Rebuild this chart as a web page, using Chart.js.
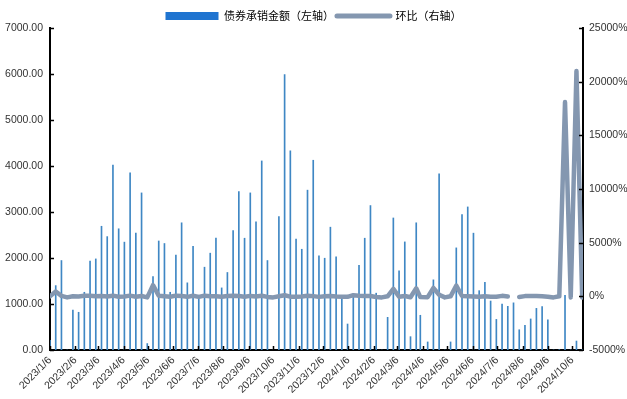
<!DOCTYPE html>
<html>
<head>
<meta charset="utf-8">
<script src="https://cdn.jsdelivr.net/npm/chart.js@4.4.1/dist/chart.umd.min.js"></script>
<style>
  html, body { margin: 0; padding: 0; background: #fff; }
</style>
</head>
<body>
<canvas id="chart" width="627" height="399"></canvas>
<script>
// Weekly observation dates
const weekDates = [
  '2023/1/6','2023/1/13','2023/1/20','2023/1/27','2023/2/3','2023/2/10','2023/2/17','2023/2/24',
  '2023/3/3','2023/3/10','2023/3/17','2023/3/24','2023/3/31','2023/4/7','2023/4/14','2023/4/21','2023/4/28',
  '2023/5/5','2023/5/12','2023/5/19','2023/5/26','2023/6/2','2023/6/9','2023/6/16','2023/6/23','2023/6/30',
  '2023/7/7','2023/7/14','2023/7/21','2023/7/28','2023/8/4','2023/8/11','2023/8/18','2023/8/25',
  '2023/9/1','2023/9/8','2023/9/15','2023/9/22','2023/9/29','2023/10/6','2023/10/13','2023/10/20','2023/10/27',
  '2023/11/3','2023/11/10','2023/11/17','2023/11/24','2023/12/1','2023/12/8','2023/12/15','2023/12/22','2023/12/29',
  '2024/1/5','2024/1/12','2024/1/19','2024/1/26','2024/2/2','2024/2/9','2024/2/16','2024/2/23',
  '2024/3/1','2024/3/8','2024/3/15','2024/3/22','2024/3/29','2024/4/3','2024/4/12','2024/4/19','2024/4/26',
  '2024/5/3','2024/5/10','2024/5/17','2024/5/24','2024/5/31','2024/6/7','2024/6/14','2024/6/21','2024/6/28',
  '2024/7/5','2024/7/12','2024/7/19','2024/7/26','2024/8/2','2024/8/9','2024/8/16','2024/8/23','2024/8/30',
  '2024/9/6','2024/9/13','2024/9/20','2024/9/27','2024/10/4','2024/10/11','2024/10/18'
];

// 债券承销金额（亿元）
const underwriting = [
  210, 1400, 1945, 0, 870, 820, 1255, 1935, 1980, 2690,
  2465, 4020, 2635, 2345, 3850, 2540, 3415, 140, 1595, 2370,
  2315, 1255, 2065, 2765, 1460, 2255, 1105, 1800, 2105, 2435,
  1350, 1685, 2595, 3445, 2430, 3415, 2785, 4110, 1945, 0,
  2900, 5985, 4330, 2410, 2190, 3475, 4125, 2045, 1995, 2670,
  2025, 1125, 565, 1160, 1840, 2430, 3140, 1235, 0, 710,
  2870, 1720, 2350, 290, 2765, 755, 175, 1525, 3830, 0,
  175, 2220, 2945, 3110, 2540, 1290, 1470, 1065, 665, 1000,
  950, 1025, 440, 535, 675, 905, 945, 655, 0, 7,
  1190, 1, 195, 1
];

// 环比（%）
const momChange = [
  0, 450, 40, -100, 0, -6, 53, 54, 2, 36,
  -8, 63, -34, -11, 64, -34, 35, -96, 1040, 49,
  -2, -46, 65, 34, -47, 55, -51, 63, 17, 16,
  -45, 25, 54, 33, -29, 41, -18, 48, -53, -100,
  0, 106, -28, -44, -9, 59, 19, -50, -2, 34,
  -24, -44, -50, 105, 59, 32, 29, -61, -100, 0,
  700, -40, 37, -88, 750, -73, -77, 780, 151, -100,
  0, 1000, 33, 6, -18, -49, 14, -28, -37, 45,
  -8, null, -57, 20, 27, 34, 4, -31, -100, 0,
  18100, -100, 21000, -99
];

// Date axis tick labels (monthly)
const monthTicks = [
  '2023/1/6','2023/2/6','2023/3/6','2023/4/6','2023/5/6','2023/6/6','2023/7/6','2023/8/6',
  '2023/9/6','2023/10/6','2023/11/6','2023/12/6','2024/1/6','2024/2/6','2024/3/6','2024/4/6',
  '2024/5/6','2024/6/6','2024/7/6','2024/8/6','2024/9/6','2024/10/6'
];
const axisStart = '2023/1/6';
const axisEnd = '2024/10/19';

const seriesNames = ['债券承销金额（左轴）', '环比（右轴）'];
const barColor = '#3f87c4';
const legendBarColor = '#1f74d0';
const lineColor = '#8497b0';

function dayIndex(s) {
  const [y, m, d] = s.split('/').map(Number);
  const [y0, m0, d0] = axisStart.split('/').map(Number);
  return Math.round((Date.UTC(y, m - 1, d) - Date.UTC(y0, m0 - 1, d0)) / 86400000);
}

const barPoints = weekDates.map((d, i) => ({ x: dayIndex(d), y: underwriting[i] }));
const linePoints = weekDates.map((d, i) => ({ x: dayIndex(d), y: momChange[i] }));

// Short tick marks drawn inward from each axis line
const innerTicks = {
  id: 'innerTicks',
  afterDraw(chart) {
    const { ctx, chartArea, scales } = chart;
    ctx.save();
    ctx.strokeStyle = '#000';
    ctx.lineWidth = 1.5;
    ctx.beginPath();
    scales.x.ticks.forEach(t => {
      const px = Math.round(scales.x.getPixelForValue(t.value)) + 0.5;
      ctx.moveTo(px, chartArea.bottom);
      ctx.lineTo(px, chartArea.bottom - 4);
    });
    scales.y.ticks.forEach(t => {
      const py = Math.round(scales.y.getPixelForValue(t.value)) + 0.5;
      ctx.moveTo(chartArea.left, py);
      ctx.lineTo(chartArea.left + 4, py);
    });
    scales.y2.ticks.forEach(t => {
      const py = Math.round(scales.y2.getPixelForValue(t.value)) + 0.5;
      ctx.moveTo(chartArea.right, py);
      ctx.lineTo(chartArea.right - 4, py);
    });
    ctx.stroke();
    ctx.restore();
  }
};

Chart.defaults.font.family = '"Liberation Sans", Arial, sans-serif';
Chart.defaults.color = '#333';

new Chart(document.getElementById('chart'), {
  type: 'bar',
  data: {
    datasets: [
      {
        type: 'bar',
        label: seriesNames[0],
        data: barPoints,
        backgroundColor: barColor,
        barThickness: 1,
        yAxisID: 'y',
        order: 1
      },
      {
        type: 'line',
        label: seriesNames[1],
        data: linePoints,
        borderColor: lineColor,
        backgroundColor: lineColor,
        borderWidth: 4.5,
        borderJoinStyle: 'round',
        borderCapStyle: 'round',
        pointRadius: 0,
        tension: 0,
        spanGaps: false,
        yAxisID: 'y2',
        order: 0
      }
    ]
  },
  options: {
    responsive: false,
    animation: false,
    layout: { padding: { top: 7.5, left: 0, right: 0, bottom: 0 } },
    plugins: {
      tooltip: { enabled: false },
      legend: {
        position: 'top',
        maxHeight: 20.5,
        labels: {
          usePointStyle: true,
          pointStyleWidth: 53,
          boxHeight: 8,
          padding: 3,
          color: '#333',
          font: { family: '"Noto Sans CJK SC", sans-serif', size: 11 },
          generateLabels: () => [
            { text: seriesNames[0], fillStyle: legendBarColor, strokeStyle: legendBarColor,
              lineWidth: 0, pointStyle: 'rect', datasetIndex: 0, hidden: false },
            { text: seriesNames[1], fillStyle: lineColor, strokeStyle: lineColor,
              lineWidth: 5, lineCap: 'round', pointStyle: 'line', datasetIndex: 1, hidden: false }
          ]
        }
      }
    },
    scales: {
      x: {
        type: 'linear',
        offset: false,
        min: dayIndex(axisStart),
        max: dayIndex(axisEnd),
        grid: { display: false, drawTicks: false },
        border: { display: true, color: '#000', width: 2 },
        afterBuildTicks: s => { s.ticks = monthTicks.map(t => ({ value: dayIndex(t) })); },
        afterFit: s => { s.height = 49; },
        ticks: {
          autoSkip: false,
          maxRotation: 45,
          minRotation: 45,
          padding: 4,
          font: { size: 10.5 },
          callback: (v, i) => monthTicks[i]
        }
      },
      y: {
        position: 'left',
        min: 0,
        max: 7000,
        grid: { display: false, drawTicks: false },
        border: { display: true, color: '#000', width: 2 },
        afterFit: s => { s.width = 50; },
        ticks: {
          stepSize: 1000,
          padding: 7,
          font: { size: 10.5 },
          callback: v => v.toFixed(2)
        }
      },
      y2: {
        position: 'right',
        min: -5000,
        max: 25000,
        grid: { display: false, drawTicks: false },
        border: { display: true, color: '#000', width: 2 },
        afterFit: s => { s.width = 44; },
        ticks: {
          stepSize: 5000,
          padding: 6,
          font: { size: 10.5 },
          callback: v => v + '%'
        }
      }
    }
  },
  plugins: [innerTicks]
});
</script>
</body>
</html>
